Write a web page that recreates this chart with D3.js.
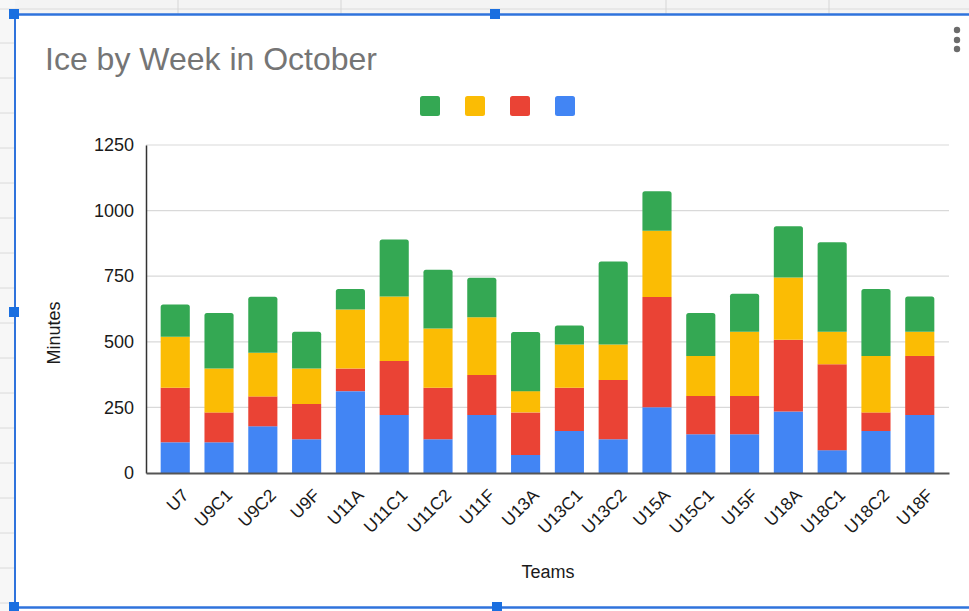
<!DOCTYPE html>
<html>
<head>
<meta charset="utf-8">
<script src="https://cdn.jsdelivr.net/npm/d3@7"></script>
<style>
  html, body { margin: 0; padding: 0; background: #ffffff; }
  svg { display: block; font-family: "Liberation Sans", Arial, sans-serif; }
</style>
</head>
<body>
<svg id="chart" width="969" height="611"></svg>
<script>
// ---- data ----
const teams = ["U7","U9C1","U9C2","U9F","U11A","U11C1","U11C2","U11F","U13A","U13C1","U13C2","U15A","U15C1","U15F","U18A","U18C1","U18C2","U18F"];
const week1 = [117,117,178,129,312,221,129,221,69,160,129,251,148,148,234,87,160,221];   // blue
const week2 = [208,114,114,134,86,206,196,152,162,165,225,420,145,145,274,327,71,225];   // red
const week3 = [194,167,166,135,225,246,226,221,81,165,136,252,153,245,237,124,215,92];   // yellow
const week4 = [123,212,214,140,78,217,224,150,225,72,316,151,164,145,195,341,255,135];   // green
const yTicks = [0,250,500,750,1000,1250];
const seriesNames = ["Week 1","Week 2","Week 3","Week 4"];
const seriesColors = ["#4285F4","#EA4335","#FBBC04","#34A853"];
const legendOrder = [3,2,1,0];
const chartTitle = "Ice by Week in October";
const xTitle = "Teams";
const yTitle = "Minutes";

// ---- build table ----
const seriesData = [week1, week2, week3, week4];
const rows = teams.map((t, i) => {
  const r = { team: t };
  seriesNames.forEach((s, k) => r[s] = seriesData[k][i]);
  return r;
});
const stacked = d3.stack().keys(seriesNames)(rows);

const svg = d3.select("#chart");

// ---- spreadsheet background outside chart ----
svg.append("rect").attr("x",0).attr("y",0).attr("width",969).attr("height",14).attr("fill","#f4f4f4");
svg.append("rect").attr("x",0).attr("y",0).attr("width",15).attr("height",611).attr("fill","#f7f7f7");
svg.append("line").attr("x1",0).attr("x2",969).attr("y1",9).attr("y2",9).attr("stroke","#dcdcdc");
[178,341,666,829].forEach(x => svg.append("line").attr("x1",x).attr("x2",x).attr("y1",0).attr("y2",14).attr("stroke","#d6d6d6"));
d3.range(43, 611, 35).forEach(y => svg.append("line").attr("x1",0).attr("x2",14).attr("y1",y).attr("y2",y).attr("stroke","#dadada"));

// chart area
svg.append("rect").attr("x",15).attr("y",15).attr("width",954).attr("height",592).attr("fill","#ffffff");

// ---- scales ----
const x = d3.scaleBand().domain(teams).range([146, 949]).paddingInner(0.335).paddingOuter(0.335);
const y = d3.scaleLinear().domain([0, 1250]).range([473, 145]);

// gridlines
svg.append("g").selectAll("line").data(yTicks.filter(d => d > 0)).join("line")
  .attr("x1", 146).attr("x2", 949)
  .attr("y1", d => y(d)).attr("y2", d => y(d))
  .attr("stroke", "#d9d9d9").attr("stroke-width", 1.2);

// y axis
const yAxis = svg.append("g").attr("transform", "translate(146,0)")
  .call(d3.axisLeft(y).tickValues(yTicks).tickSize(0).tickPadding(12).tickFormat(d3.format("d")));
yAxis.select(".domain").attr("stroke", "#333").attr("stroke-width", 1.5);
yAxis.selectAll("text").attr("font-size", 18).attr("fill", "#1a1a1a").attr("font-family", "Liberation Sans, Arial, sans-serif");

// bars
const r = 2.5;
const topIdx = stacked.length - 1;
stacked.forEach((layer, k) => {
  svg.append("g").selectAll("path").data(layer).join("path")
    .attr("fill", seriesColors[k])
    .attr("d", d => {
      const x0 = x(d.data.team), w = x.bandwidth();
      const yT = y(d[1]), yB = y(d[0]);
      if (k === topIdx) {
        return `M${x0},${yB}V${yT + r}Q${x0},${yT} ${x0 + r},${yT}H${x0 + w - r}Q${x0 + w},${yT} ${x0 + w},${yT + r}V${yB}Z`;
      }
      return `M${x0},${yB}V${yT}H${x0 + w}V${yB}Z`;
    });
});

// x axis baseline
const xAxis = svg.append("g").attr("transform", "translate(0,473)")
  .call(d3.axisBottom(x).tickSize(0).tickPadding(0));
xAxis.select(".domain").attr("stroke", "#555").attr("stroke-width", 2);
xAxis.selectAll(".tick text")
  .attr("font-size", 17.5).attr("fill", "#1a1a1a").attr("font-family", "Liberation Sans, Arial, sans-serif")
  .attr("text-anchor", "end")
  .attr("dy", "0.35em")
  .attr("y", 0)
  .attr("transform", "translate(10,19) rotate(-45)");

// axis titles
svg.append("text").attr("x", 548).attr("y", 578).attr("text-anchor", "middle")
  .attr("font-size", 18).attr("fill", "#1a1a1a").text(xTitle);
svg.append("text").attr("transform", "translate(60,333) rotate(-90)").attr("text-anchor", "middle")
  .attr("font-size", 18).attr("fill", "#1a1a1a").text(yTitle);

// title
svg.append("text").attr("x", 45).attr("y", 70).attr("font-size", 32).attr("fill", "#757575").text(chartTitle);

// legend
svg.append("g").selectAll("rect").data(legendOrder).join("rect")
  .attr("x", (d, i) => 420 + i * 45).attr("y", 96)
  .attr("width", 20).attr("height", 20).attr("rx", 2.5)
  .attr("fill", d => seriesColors[d]);

// menu dots
[30, 40, 49].forEach(cy => svg.append("circle").attr("cx", 957).attr("cy", cy).attr("r", 3.2).attr("fill", "#6b6b6b"));

// selection border
const blue = "#2f73dc";
svg.append("line").attr("x1", 14).attr("x2", 969).attr("y1", 14.5).attr("y2", 14.5).attr("stroke", blue).attr("stroke-width", 2.5);
svg.append("line").attr("x1", 15).attr("x2", 15).attr("y1", 14).attr("y2", 611).attr("stroke", blue).attr("stroke-width", 2);
svg.append("line").attr("x1", 14).attr("x2", 969).attr("y1", 607.5).attr("y2", 607.5).attr("stroke", blue).attr("stroke-width", 2.5);
[[14,14],[495,14],[14,312],[14,607],[497,607]].forEach(([cx, cy]) =>
  svg.append("rect").attr("x", cx - 5).attr("y", cy - 5).attr("width", 10).attr("height", 10).attr("fill", "#1a6fe0"));
</script>
</body>
</html>
